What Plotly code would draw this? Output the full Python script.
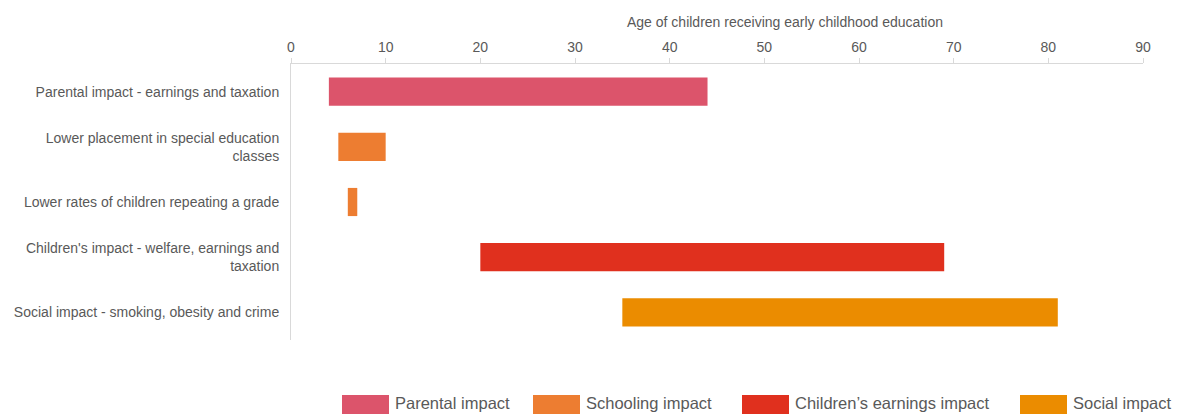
import plotly.graph_objects as go

# ---- data ----
categories = [
    "Parental impact - earnings and taxation",
    "Lower placement in special education<br>classes",
    "Lower rates of children repeating a grade",
    "Children's impact - welfare, earnings and<br>taxation",
    "Social impact - smoking, obesity and crime",
]
start_age = [4, 5, 6, 20, 35]
end_age = [44, 10, 7, 69, 81]
row_series = ["Parental impact", "Schooling impact", "Schooling impact",
              "Children\u2019s earnings impact", "Social impact"]
series_names = ["Parental impact", "Schooling impact",
                "Children\u2019s earnings impact", "Social impact"]
series_colors = ["#DC546B", "#ED7D31", "#E0301E", "#EB8C00"]
axis_title = "Age of children receiving early childhood education"
x_ticks = [0, 10, 20, 30, 40, 50, 60, 70, 80, 90]

W, H = 1178, 414
ML, MR, MT, MB = 291, 35, 64, 74
PW, PH = W - ML - MR, H - MT - MB

def px_x(x):
    return (x - ML) / PW

def px_y(y):
    return (H - MB - y) / PH

FONT = "Liberation Sans, Arial, sans-serif"
GREY = "#595959"

fig = go.Figure()
for name, color in zip(series_names, series_colors):
    ys, bases, lens = [], [], []
    for c, s, e, r in zip(categories, start_age, end_age, row_series):
        if r == name:
            ys.append(c)
            bases.append(s)
            lens.append(e - s)
    fig.add_trace(go.Bar(
        y=ys, x=lens, base=bases, orientation="h", name=name,
        marker=dict(color=color, line=dict(width=0)),
        width=0.51, showlegend=False,
    ))

fig.update_layout(
    width=W, height=H,
    margin=dict(l=ML, r=MR, t=MT, b=MB),
    paper_bgcolor="white", plot_bgcolor="white",
    barmode="overlay",
    font=dict(family=FONT, size=14, color=GREY),
    xaxis=dict(
        side="top", range=[0, 90], tickvals=x_ticks,
        showgrid=False, zeroline=False,
        showline=True, linecolor="#D9D9D9", linewidth=1,
        ticks="outside", ticklen=5, tickcolor="#D9D9D9",
        tickfont=dict(size=14, color=GREY),
    ),
    yaxis=dict(
        categoryorder="array", categoryarray=categories,
        autorange="reversed",
        showgrid=False, zeroline=False,
        showline=True, linecolor="#D9D9D9", linewidth=1,
        ticks="", ticklabelstandoff=8,
        tickfont=dict(size=14, color=GREY),
    ),
)

annotations = [dict(
    text=axis_title, xref="paper", yref="paper",
    x=px_x(785), y=px_y(22), xanchor="center", yanchor="middle",
    showarrow=False, font=dict(size=14, color=GREY),
)]

# custom legend (large swatches)
legend_x = [342, 533, 742, 1020]
shapes = []
for lx, name, color in zip(legend_x, series_names, series_colors):
    shapes.append(dict(
        type="rect", xref="paper", yref="paper",
        x0=px_x(lx), x1=px_x(lx + 47), y0=px_y(395), y1=px_y(416),
        fillcolor=color, line=dict(width=0), layer="above",
    ))
    annotations.append(dict(
        text=name, xref="paper", yref="paper",
        x=px_x(lx + 51), y=px_y(403), xanchor="left", yanchor="middle",
        showarrow=False, font=dict(size=16.5, color=GREY),
    ))

fig.update_layout(annotations=annotations, shapes=shapes)
fig.write_html("out.html")
